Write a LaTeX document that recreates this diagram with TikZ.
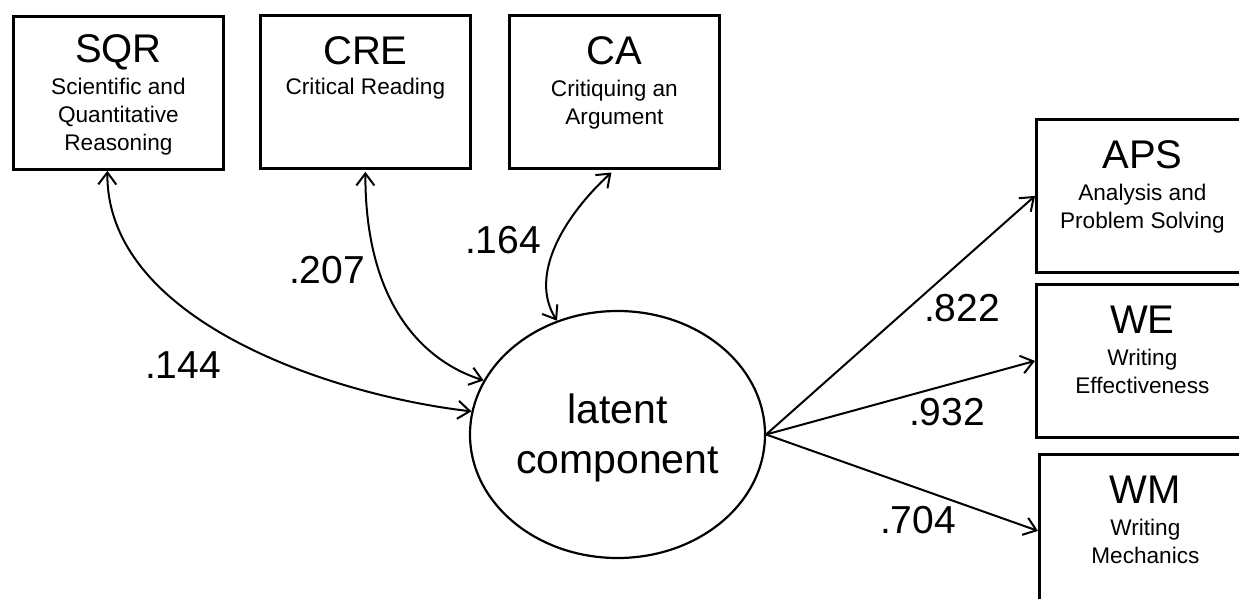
\documentclass[tikz,border=0pt]{standalone}
\usepackage{fontspec}
\setmainfont{Liberation Sans}
\usetikzlibrary{shapes.geometric,arrows.meta}
\begin{document}
\begin{tikzpicture}[x=1pt,y=-1pt,
  box/.style={draw,line width=2.8pt,minimum width=210pt,minimum height=153pt,inner sep=0pt,anchor=north west},
  rbox/.style={box,minimum width=212pt},
  ttl/.style={anchor=base,inner sep=0pt,font=\fontsize{40}{48}\selectfont},
  sub/.style={anchor=north,align=center,inner sep=0pt,font=\fontsize{22.6}{28}\selectfont},
  lbl/.style={inner sep=0pt,font=\fontsize{39}{47}\selectfont},
  tip/.tip={Straight Barb[length=12pt,width=18pt]},
  arr/.style={line width=2pt,-tip},
  darr/.style={line width=2pt,tip-tip}]
\useasboundingbox (0,0) rectangle (1239,599);
\clip (0,0) rectangle (1239,599);
\fill[white] (0,0) rectangle (1239,599);

% boxes
\node[box] (sqr) at (12,15) {};
\node[box] (cre) at (259,14) {};
\node[box] (ca) at (508,14) {};
\node[rbox] (aps) at (1035,118) {};
\node[rbox] (we) at (1035,283) {};
\node[rbox] (wm) at (1038,453) {};

% titles
\node[ttl] (sqrT) at ([yshift=-47.5pt]sqr.north) {SQR};
\node[ttl] (creT) at ([yshift=-50.5pt]cre.north) {CRE};
\node[ttl] (caT) at ([yshift=-50.5pt]ca.north) {CA};
\node[ttl] (apsT) at ([yshift=-50.5pt]aps.north) {APS};
\node[ttl] (weT) at ([yshift=-50.5pt]we.north) {WE};
\node[ttl] (wmT) at ([yshift=-50.5pt]wm.north) {WM};

% subtitles
\node[sub] (sqrS) at ([yshift=-59.4pt]sqr.north) {\strut Scientific and\\\strut Quantitative\\\strut Reasoning};
\node[sub] (creS) at ([yshift=-60.4pt]cre.north) {\strut Critical Reading};
\node[sub] (caS) at ([yshift=-62.4pt]ca.north) {\strut Critiquing an\\\strut Argument};
\node[sub] (apsS) at ([yshift=-62.4pt]aps.north) {\strut Analysis and\\\strut Problem Solving};
\node[sub] (weS) at ([yshift=-62.4pt]we.north) {\strut Writing\\\strut Effectiveness};
\node[sub] (wmS) at ([yshift=-62.4pt]wm.north) {\strut Writing\\\strut Mechanics};

% latent
\node[draw,ellipse,line width=2.2pt,minimum width=295pt,minimum height=247pt,inner sep=0pt,
      align=center,font=\fontsize{41}{50}\selectfont] (lat) at (617.5,434.5) {\rule{0pt}{37pt}latent\\component};

% correlations
\draw[darr] ([xshift=-11pt]sqr.south) .. controls (106,320) and (330,395) .. (lat.171);
\draw[darr,shorten <=2pt] (cre.south) .. controls (365,300) and (420,360) .. (lat.158);
\draw[darr,shorten <=4pt] (ca.south) .. controls (565,215) and (528,275) .. (lat.118);

% loadings
\draw[arr] (lat.east) -- (aps.west);
\draw[arr] (lat.east) -- (we.west);
\draw[arr] (lat.east) -- (wm.west);

% labels
\node[lbl] (l144) at (183,365) {.144};
\node[lbl] (l207) at (327,270) {.207};
\node[lbl] (l164) at (503,240) {.164};
\node[lbl] (l822) at (962,308) {.822};
\node[lbl] (l932) at (947,412) {.932};
\node[lbl] (l704) at (918,520) {.704};
\end{tikzpicture}
\end{document}
